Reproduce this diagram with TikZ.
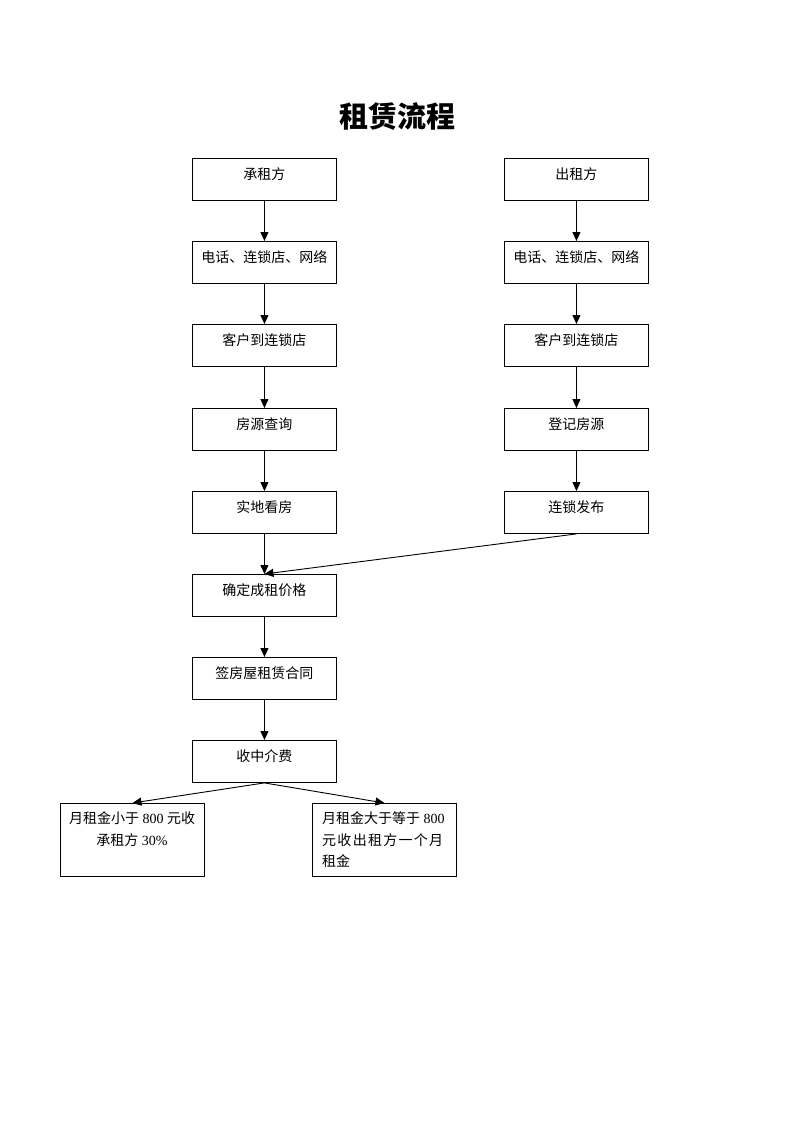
\documentclass[tikz,border=0pt]{standalone}
\usepackage{fontspec}
\setmainfont{Liberation Serif}
\newfontfamily\cjk{Noto Sans CJK SC}
\usetikzlibrary{arrows.meta}
\newcommand\zh[1]{{\cjk #1}}
\begin{document}
\begin{tikzpicture}[x=1pt,y=-1pt,
  box/.style={draw, line width=0.9pt, anchor=north west, inner sep=0pt,
    minimum width=144pt, minimum height=42pt, text height=9pt, text depth=9pt,
    font=\cjk\fontsize{14pt}{16pt}\selectfont},
  bigbox/.style={draw, line width=0.9pt, anchor=north west, inner sep=0pt,
    minimum width=144pt, minimum height=73pt},
  txt/.style={anchor=base west, inner sep=0pt, font=\fontsize{14pt}{16pt}\selectfont},
  arr/.style={-{Triangle[length=9pt,width=8pt]}, line width=0.9pt}]
\useasboundingbox (0,0) rectangle (793,1122);
\fill[white] (0,0) rectangle (793,1122);
\node[font=\cjk\bfseries\fontsize{29pt}{32pt}\selectfont] (title) at (397,117) {租赁流程};
% left column
\node[box] (l1) at (192,158) {承租方};
\node[box] (l2) at (192,241) {电话、连锁店、网络};
\node[box] (l3) at (192,324) {客户到连锁店};
\node[box] (l4) at (192,408) {房源查询};
\node[box] (l5) at (192,491) {实地看房};
\node[box] (l6) at (192,574) {确定成租价格};
\node[box] (l7) at (192,657) {签房屋租赁合同};
\node[box] (l8) at (192,740) {收中介费};
% right column
\node[box] (r1) at (504,158) {出租方};
\node[box] (r2) at (504,241) {电话、连锁店、网络};
\node[box] (r3) at (504,324) {客户到连锁店};
\node[box] (r4) at (504,408) {登记房源};
\node[box] (r5) at (504,491) {连锁发布};
% bottom boxes
\node[bigbox] (b1) at (60,803) {};
\node[bigbox] (b2) at (312,803) {};
\node[txt, anchor=base] (b1a) at (132,823) {\zh{月租金小于} 800 \zh{元收}};
\node[txt, anchor=base] (b1b) at (132,845) {\zh{承租方} 30\%};
\node[txt] (b2a) at (322,823) {\zh{月租金大于等于} 800};
\node[txt] (b2b) at (322,845) {\makebox[121pt][s]{\cjk 元\hfill 收\hfill 出\hfill 租\hfill 方\hfill 一\hfill 个\hfill 月}};
\node[txt] (b2c) at (322,866) {\zh{租金}};
% arrows
\foreach \a/\b in {l1/l2,l2/l3,l3/l4,l4/l5,l5/l6,l6/l7,l7/l8,r1/r2,r2/r3,r3/r4,r4/r5}
  \draw[arr] (\a.south) -- (\b.north);
\draw[arr] (r5.south) -- (l6.north);
\draw[arr] (l8.south) -- (b1.north);
\draw[arr] (l8.south) -- (b2.north);
\end{tikzpicture}
\end{document}
